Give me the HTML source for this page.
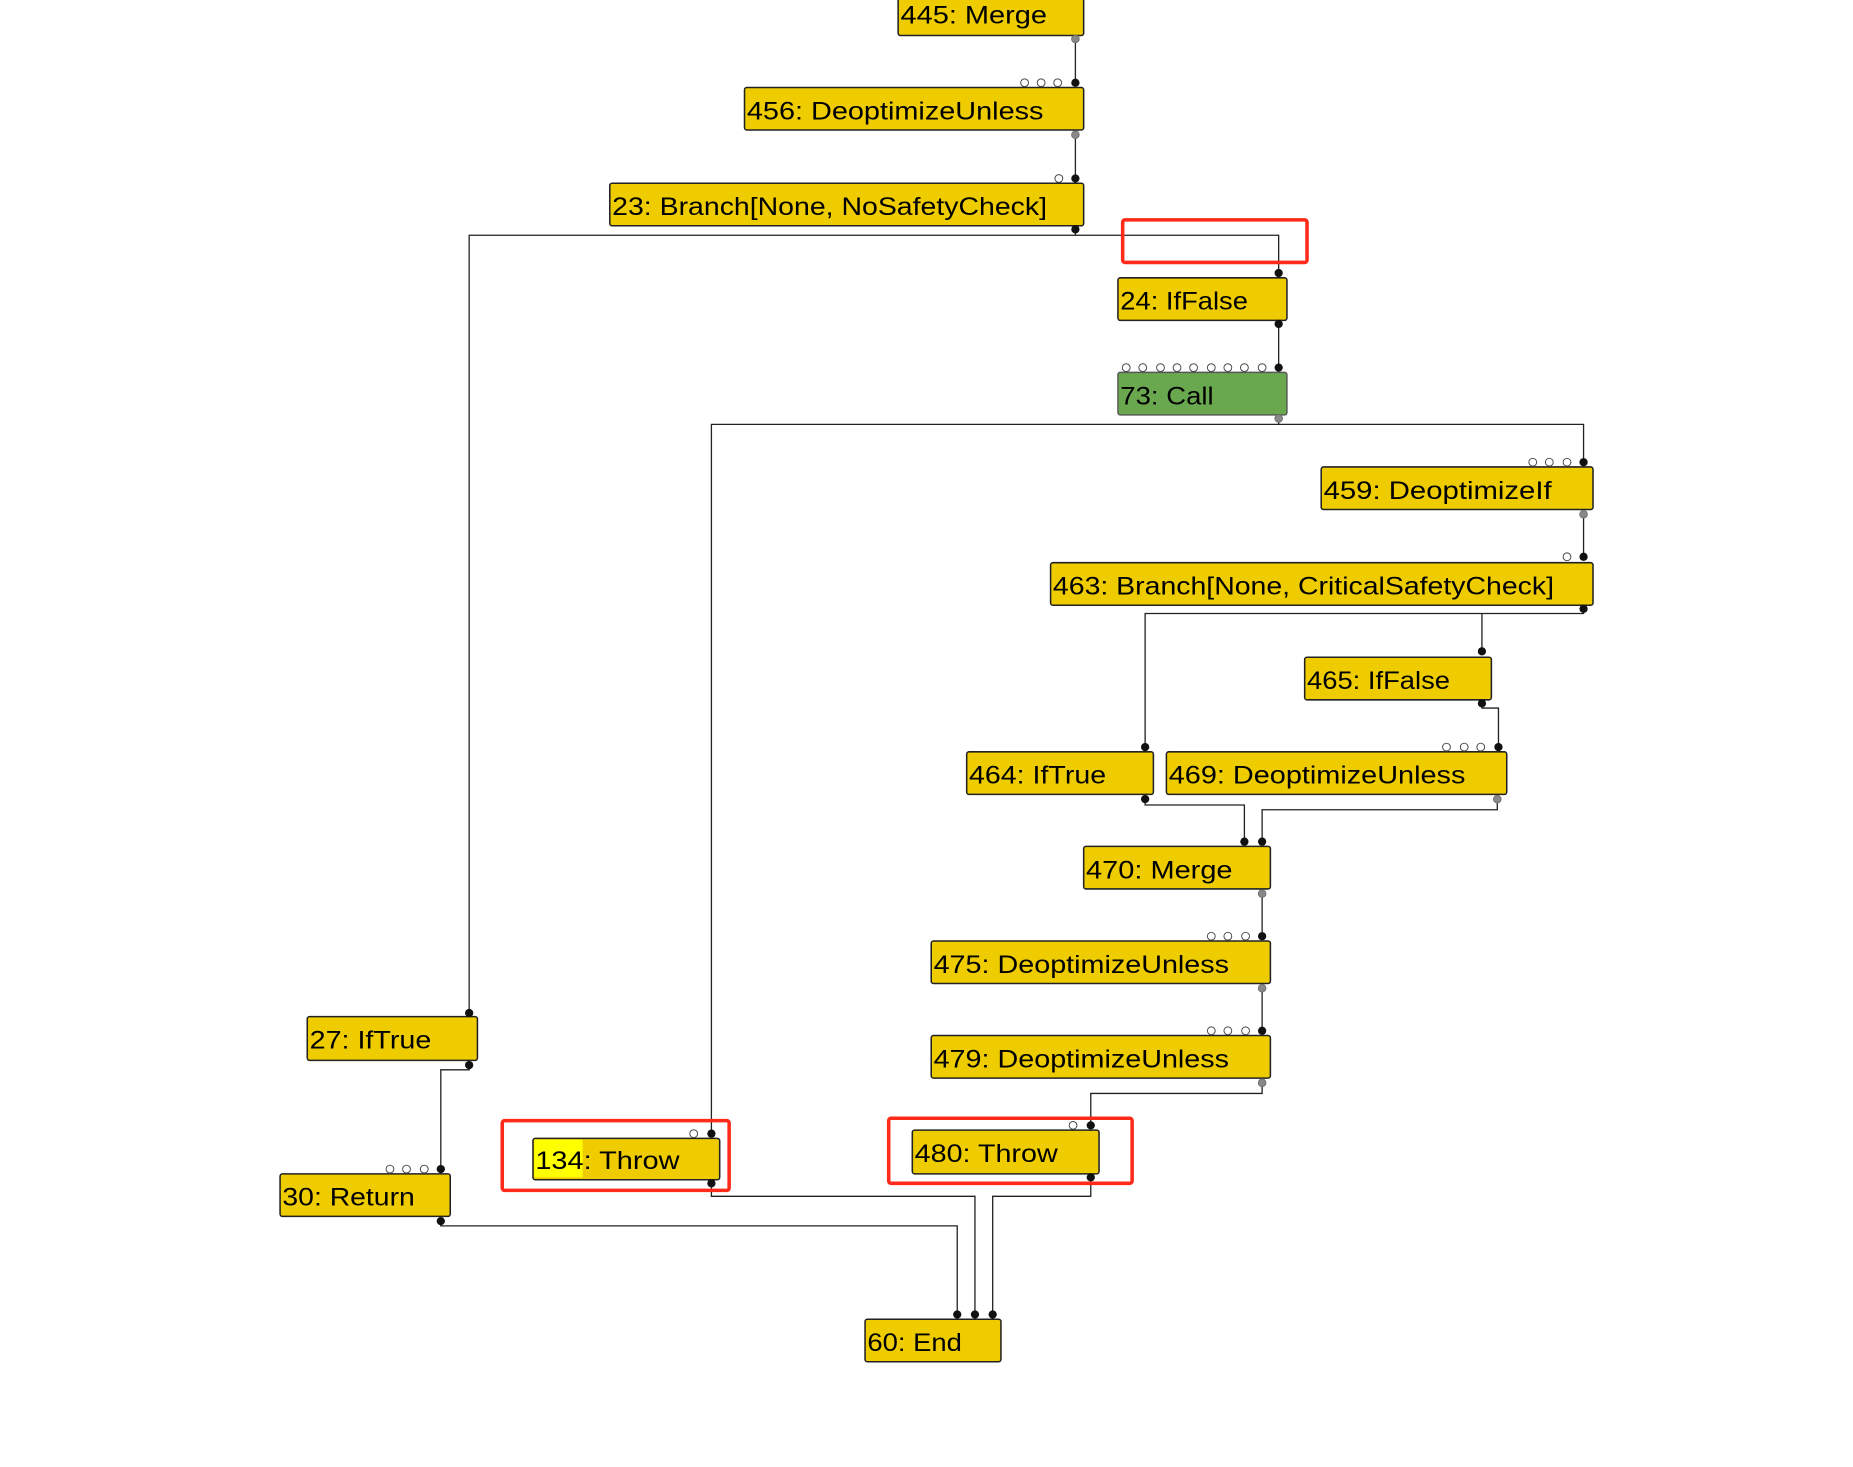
<!DOCTYPE html>
<html><head><meta charset="utf-8">
<style>
html,body{margin:0;padding:0;background:#fff;}
svg{display:block;}
text{font-family:"Liberation Sans","DejaVu Sans",sans-serif;font-size:21px;fill:#000;}
.n{fill:#eecc00;stroke:#222;stroke-width:1.3;}
.e{fill:none;stroke:#222;stroke-width:1.1;}
.b{fill:#111;}
.g{fill:#888;stroke:#666;stroke-width:0.6;}
.o{fill:#fff;stroke:#444;stroke-width:0.8;}
.r{fill:none;stroke:#ff2a1a;stroke-width:3;}
</style></head><body>
<svg width="1853" height="1467" viewBox="0 0 1568 1241" preserveAspectRatio="none" xmlns="http://www.w3.org/2000/svg">
<path class="e" d="M910 33V70"/>
<path class="e" d="M910 114V151"/>
<path class="e" d="M910 194V199H1082V231"/>
<path class="e" d="M910 199H397V857"/>
<path class="e" d="M1082 274V311"/>
<path class="e" d="M1082 354V359H1340V391"/>
<path class="e" d="M1082 359H602V959"/>
<path class="e" d="M1340 435V471"/>
<path class="e" d="M1340 515V519H969V632"/>
<path class="e" d="M1254 519V551"/>
<path class="e" d="M1254 595V599H1268V632"/>
<path class="e" d="M969 676V681H1053V712"/>
<path class="e" d="M1267 676V685H1068V712"/>
<path class="e" d="M1068 756V792"/>
<path class="e" d="M1068 836V872"/>
<path class="e" d="M1068 916V925H923V952"/>
<path class="e" d="M397 901V905H373V989"/>
<path class="e" d="M602 1001V1012H825V1112"/>
<path class="e" d="M923 996V1012H840V1112"/>
<path class="e" d="M373 1033V1037H810V1112"/>

<rect class="n" x="760" y="-6" width="157" height="36" rx="2"/>
<text x="762" y="20" textLength="124" lengthAdjust="spacingAndGlyphs">445: Merge</text>

<rect class="n" x="630" y="74" width="287" height="36" rx="2"/>
<text x="632" y="101" textLength="251" lengthAdjust="spacingAndGlyphs">456: DeoptimizeUnless</text>

<rect class="n" x="516" y="155" width="401" height="36" rx="2"/>
<text x="518" y="182" textLength="368" lengthAdjust="spacingAndGlyphs">23: Branch[None, NoSafetyCheck]</text>

<rect class="n" x="946" y="235" width="143" height="36" rx="2"/>
<text x="948" y="262" textLength="108" lengthAdjust="spacingAndGlyphs">24: IfFalse</text>

<rect x="946" y="315" width="143" height="36" rx="2" fill="#6aa84f" stroke="#555" stroke-width="1.2"/>
<text x="948" y="342" textLength="79" lengthAdjust="spacingAndGlyphs">73: Call</text>

<rect class="n" x="1118" y="395" width="230" height="36" rx="2"/>
<text x="1120" y="422" textLength="193" lengthAdjust="spacingAndGlyphs">459: DeoptimizeIf</text>

<rect class="n" x="889" y="476" width="459" height="36" rx="2"/>
<text x="891" y="503" textLength="424" lengthAdjust="spacingAndGlyphs">463: Branch[None, CriticalSafetyCheck]</text>

<rect class="n" x="1104" y="556" width="158" height="36" rx="2"/>
<text x="1106" y="583" textLength="121" lengthAdjust="spacingAndGlyphs">465: IfFalse</text>

<rect class="n" x="818" y="636" width="158" height="36" rx="2"/>
<text x="820" y="663" textLength="116" lengthAdjust="spacingAndGlyphs">464: IfTrue</text>

<rect class="n" x="987" y="636" width="288" height="36" rx="2"/>
<text x="989" y="663" textLength="251" lengthAdjust="spacingAndGlyphs">469: DeoptimizeUnless</text>

<rect class="n" x="917" y="716" width="158" height="36" rx="2"/>
<text x="919" y="743" textLength="124" lengthAdjust="spacingAndGlyphs">470: Merge</text>

<rect class="n" x="788" y="796" width="287" height="36" rx="2"/>
<text x="790" y="823" textLength="250" lengthAdjust="spacingAndGlyphs">475: DeoptimizeUnless</text>

<rect class="n" x="788" y="876" width="287" height="36" rx="2"/>
<text x="790" y="903" textLength="250" lengthAdjust="spacingAndGlyphs">479: DeoptimizeUnless</text>

<rect class="n" x="260" y="860" width="144" height="37" rx="2"/>
<text x="262" y="887" textLength="103" lengthAdjust="spacingAndGlyphs">27: IfTrue</text>

<rect class="n" x="237" y="993" width="144" height="36" rx="2"/>
<text x="239" y="1020" textLength="112" lengthAdjust="spacingAndGlyphs">30: Return</text>

<rect class="n" x="451" y="963" width="158" height="35" rx="2"/>
<rect x="452" y="964" width="41" height="32" fill="#ffff00"/>
<text x="453" y="989" textLength="122" lengthAdjust="spacingAndGlyphs">134: Throw</text>

<rect class="n" x="772" y="956" width="158" height="37" rx="2"/>
<text x="774" y="983" textLength="121" lengthAdjust="spacingAndGlyphs">480: Throw</text>

<rect class="n" x="732" y="1116" width="115" height="36" rx="2"/>
<text x="734" y="1143" textLength="80" lengthAdjust="spacingAndGlyphs">60: End</text>

<g class="g">
<circle cx="910" cy="33" r="3.3"/><circle cx="910" cy="114" r="3.3"/>
<circle cx="1082" cy="354" r="3.3"/><circle cx="1340" cy="435" r="3.3"/>
<circle cx="1267" cy="676" r="3.3"/><circle cx="1068" cy="756" r="3.3"/>
<circle cx="1068" cy="836" r="3.3"/><circle cx="1068" cy="916" r="3.3"/>
</g>
<g class="b">
<circle cx="910" cy="70" r="3.5"/><circle cx="910" cy="151" r="3.5"/><circle cx="910" cy="194" r="3.5"/>
<circle cx="1082" cy="231" r="3.5"/><circle cx="1082" cy="274" r="3.5"/><circle cx="1082" cy="311" r="3.5"/>
<circle cx="1340" cy="391" r="3.5"/><circle cx="1340" cy="471" r="3.5"/><circle cx="1340" cy="515" r="3.5"/>
<circle cx="1254" cy="551" r="3.5"/><circle cx="1254" cy="595" r="3.5"/><circle cx="1268" cy="632" r="3.5"/>
<circle cx="969" cy="632" r="3.5"/><circle cx="969" cy="676" r="3.5"/>
<circle cx="1053" cy="712" r="3.5"/><circle cx="1068" cy="712" r="3.5"/>
<circle cx="1068" cy="792" r="3.5"/><circle cx="1068" cy="872" r="3.5"/>
<circle cx="923" cy="952" r="3.5"/><circle cx="923" cy="996" r="3.5"/>
<circle cx="397" cy="857" r="3.5"/><circle cx="397" cy="901" r="3.5"/>
<circle cx="373" cy="989" r="3.5"/><circle cx="373" cy="1033" r="3.5"/>
<circle cx="602" cy="959" r="3.5"/><circle cx="602" cy="1001" r="3.5"/>
<circle cx="810" cy="1112" r="3.5"/><circle cx="825" cy="1112" r="3.5"/><circle cx="840" cy="1112" r="3.5"/>
</g>
<g class="o">
<circle cx="867" cy="70" r="3.3"/><circle cx="881" cy="70" r="3.3"/><circle cx="895" cy="70" r="3.3"/>
<circle cx="896" cy="151" r="3.3"/>
<circle cx="953" cy="311" r="3.3"/><circle cx="967" cy="311" r="3.3"/><circle cx="982" cy="311" r="3.3"/><circle cx="996" cy="311" r="3.3"/><circle cx="1010" cy="311" r="3.3"/><circle cx="1025" cy="311" r="3.3"/><circle cx="1039" cy="311" r="3.3"/><circle cx="1053" cy="311" r="3.3"/><circle cx="1068" cy="311" r="3.3"/>
<circle cx="1297" cy="391" r="3.3"/><circle cx="1311" cy="391" r="3.3"/><circle cx="1326" cy="391" r="3.3"/>
<circle cx="1326" cy="471" r="3.3"/>
<circle cx="1224" cy="632" r="3.3"/><circle cx="1239" cy="632" r="3.3"/><circle cx="1253" cy="632" r="3.3"/>
<circle cx="1025" cy="792" r="3.3"/><circle cx="1039" cy="792" r="3.3"/><circle cx="1054" cy="792" r="3.3"/>
<circle cx="1025" cy="872" r="3.3"/><circle cx="1039" cy="872" r="3.3"/><circle cx="1054" cy="872" r="3.3"/>
<circle cx="908" cy="952" r="3.3"/>
<circle cx="330" cy="989" r="3.3"/><circle cx="344" cy="989" r="3.3"/><circle cx="359" cy="989" r="3.3"/>
<circle cx="587" cy="959" r="3.3"/>
</g>
<rect class="r" x="950" y="186" width="156" height="36" rx="2"/>
<rect class="r" x="425" y="948" width="192" height="59" rx="2"/>
<rect class="r" x="752" y="946" width="206" height="55" rx="2"/>
</svg>
</body></html>
